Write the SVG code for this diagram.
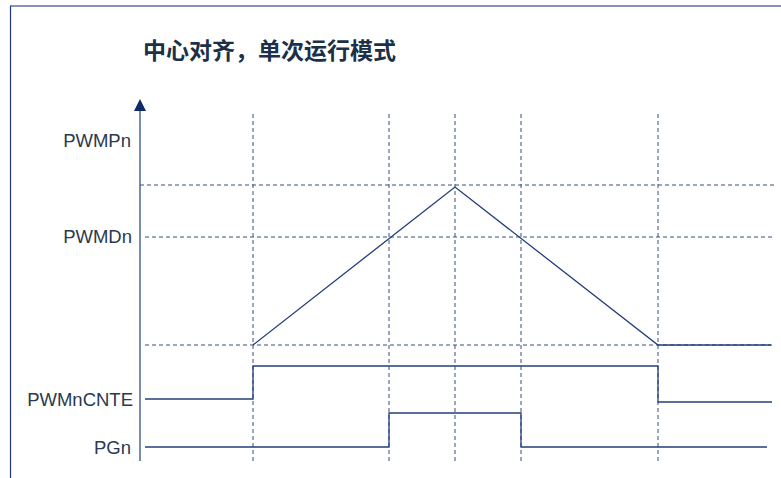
<svg xmlns="http://www.w3.org/2000/svg" width="781" height="478" viewBox="0 0 781 478">
<style>
.lbl{font-family:"Liberation Sans",Arial,sans-serif;font-size:18.5px;fill:#2b3a4e;text-anchor:end}
.title{font-family:"Noto Sans CJK SC","Liberation Sans",sans-serif;font-size:23px;font-weight:bold;fill:#1c3048}
.dash{stroke:#3a5080;stroke-width:1;stroke-dasharray:4,3;fill:none}
.sig{stroke:#233f7a;stroke-width:1.3;fill:none}
</style>
<rect width="781" height="478" fill="#ffffff"/>
<g id="frame">
<line x1="10" y1="6" x2="781" y2="6" stroke="#8594b4" stroke-width="2"/>
<line x1="10.5" y1="6" x2="10.5" y2="478" stroke="#1f3a80" stroke-width="1.2"/>
</g>
<g id="title"><text class="title" x="143" y="59">中心对齐，单次运行模式</text></g>
<g id="axis">
<line x1="140" y1="461" x2="140" y2="108" stroke="#7a8cae" stroke-width="2"/>
<path d="M140,99 L146,111 L134,111 Z" fill="#0f2a66"/>
</g>
<g id="grid">
<line class="dash" x1="253" y1="114" x2="253" y2="462"/>
<line class="dash" x1="389" y1="114" x2="389" y2="462"/>
<line class="dash" x1="455" y1="114" x2="455" y2="462"/>
<line class="dash" x1="521" y1="114" x2="521" y2="462"/>
<line class="dash" x1="658" y1="114" x2="658" y2="462"/>
<line class="dash" x1="140" y1="185" x2="776" y2="185"/>
<line class="dash" x1="145" y1="237" x2="774" y2="237"/>
<line class="dash" x1="145" y1="345" x2="774" y2="345"/>
</g>
<g id="labels">
<text class="lbl" x="131" y="147">PWMPn</text>
<text class="lbl" x="132" y="243">PWMDn</text>
<text class="lbl" x="133" y="406">PWMnCNTE</text>
<text class="lbl" x="131" y="454">PGn</text>
</g>
<g id="connectors">
<polyline class="sig" points="253,345 455,187 658,345 771,345"/>
<polyline class="sig" points="145,399 253,399 253,366 658,366 658,402 772,402"/>
<polyline class="sig" points="145,447 389,447 389,413 521,413 521,447 767,447"/>
</g>
</svg>
